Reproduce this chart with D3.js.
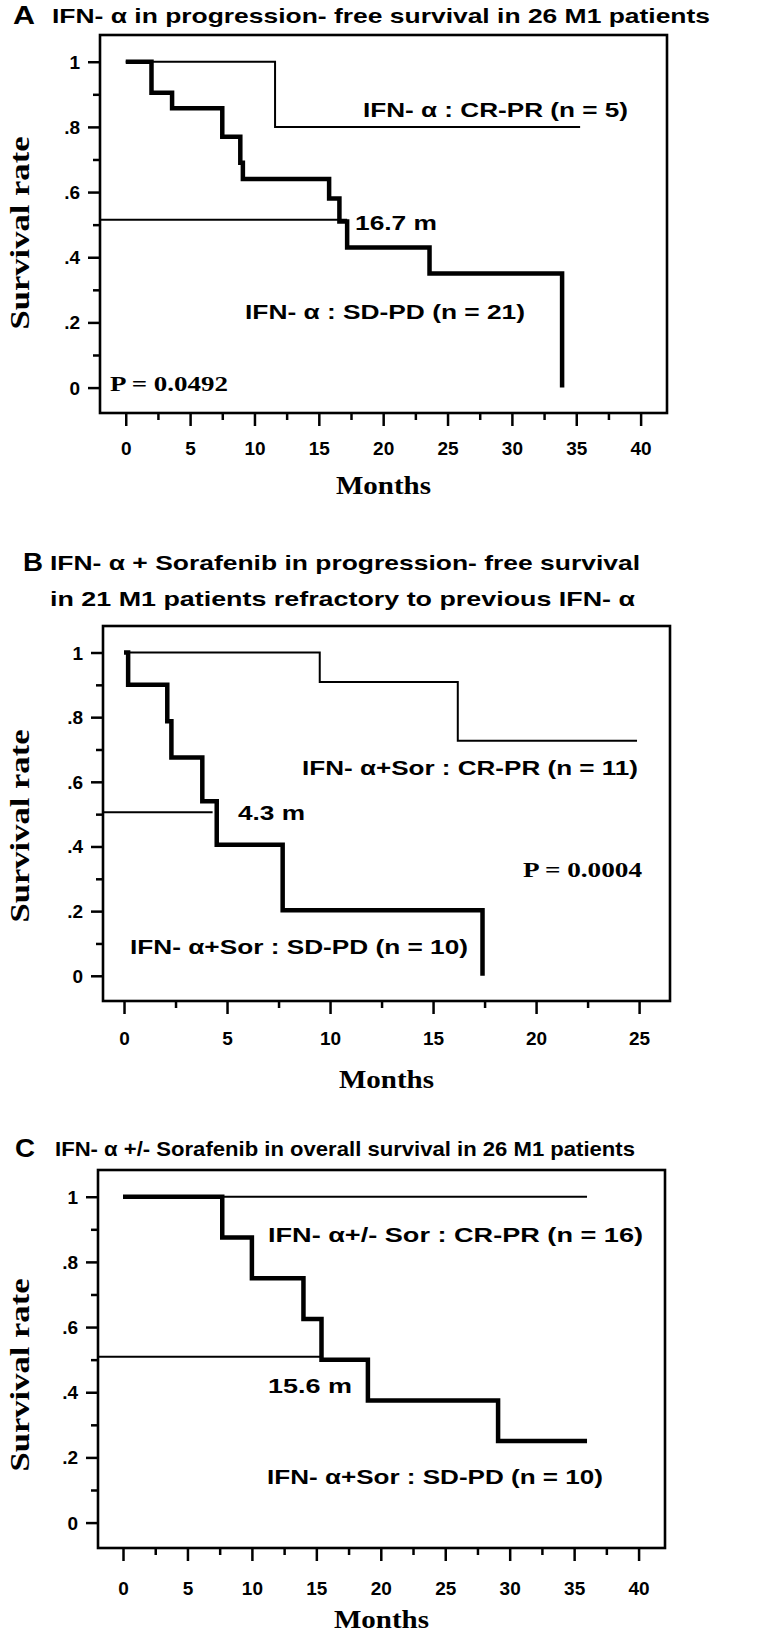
<!DOCTYPE html>
<html><head><meta charset="utf-8">
<script src="https://cdn.jsdelivr.net/npm/d3@7"></script>
<style>body{margin:0;background:#fff} svg{display:block}</style>
</head><body><svg id="c" width="774" height="1636"></svg>
<script>
// ---------- shared axis values ----------
const yMajor = [0, 0.2, 0.4, 0.6, 0.8, 1];
const yLabels = ["0", ".2", ".4", ".6", ".8", "1"];
const yMinor = [0.1, 0.3, 0.5, 0.7, 0.9];

// ---------- Panel A ----------
const aTicks = [0, 5, 10, 15, 20, 25, 30, 35, 40];
const aCrTime = [0, 11.6, 35.3];
const aCrSurv = [1, 0.8, 0.8];
const aSdTime = [0, 2.0, 3.6, 7.5, 8.9, 9.1, 15.8, 16.6, 17.2, 23.6, 33.9];
const aSdSurv = [1, 0.905, 0.857, 0.77, 0.69, 0.64, 0.58, 0.51, 0.43, 0.35, 0];
const aMedianTime = 17.2, aMedianSurv = 0.515;

// ---------- Panel B ----------
const bTicks = [0, 5, 10, 15, 20, 25];
const bCrTime = [0, 9.5, 16.2, 24.9];
const bCrSurv = [1, 0.909, 0.727, 0.727];
const bSdTime = [0, 0.2, 2.1, 2.3, 3.8, 4.5, 7.7, 17.4];
const bSdSurv = [1, 0.9, 0.7875, 0.675, 0.54, 0.405, 0.2025, 0];
const bMedianTime = 4.3, bMedianSurv = 0.506;

// ---------- Panel C ----------
const cTicks = [0, 5, 10, 15, 20, 25, 30, 35, 40];
const cCrTime = [0, 36.0];
const cCrSurv = [1, 1];
const cSdTime = [0, 7.7, 10.0, 14.0, 15.4, 19.0, 29.1, 36.0];
const cSdSurv = [1, 0.875, 0.75, 0.625, 0.5, 0.375, 0.25, 0.25];
const cMedianTime = 15.4, cMedianSurv = 0.509;

const svg = d3.select("#c");
const SANS = "'Liberation Sans', Arial, sans-serif";
const SERIF = "'Liberation Serif', 'Times New Roman', serif";
const yDomain = [-0.078, 1.082];

function txt(t, x, y, o) {
  const e = svg.append("text").text(t).attr("x", x).attr("y", y)
    .attr("dominant-baseline", "central")
    .attr("font-family", o.font || SANS).attr("font-weight", "bold")
    .attr("font-size", o.size).attr("text-anchor", o.anchor || "start")
    .attr("fill", "#000");
  if (o.len) e.attr("textLength", o.len).attr("lengthAdjust", "spacingAndGlyphs");
  if (o.rotate) e.attr("transform", `rotate(-90,${x},${y})`);
  return e;
}

function panel(p) {
  const x = d3.scaleLinear().domain(p.xDomain).range([p.left, p.right]);
  const y = d3.scaleLinear().domain(yDomain).range([p.bottom, p.top]);

  const style = g => {
    g.select(".domain").remove();
    g.selectAll("line").attr("stroke", "#000").attr("stroke-width", 2.5);
  };
  // y axis
  svg.append("g").attr("transform", `translate(${p.left},0)`)
    .call(d3.axisLeft(y).tickValues(yMajor).tickSize(12).tickFormat((d, i) => yLabels[i]))
    .call(style)
    .call(g => g.selectAll("text").attr("x", -20).attr("dy", null)
      .attr("dominant-baseline", "central")
      .attr("font-family", SANS).attr("font-weight", "bold").attr("font-size", 19).attr("fill", "#000"));
  svg.append("g").attr("transform", `translate(${p.left},0)`)
    .call(d3.axisLeft(y).tickValues(yMinor).tickSize(7).tickFormat(""))
    .call(style);
  // x axis
  svg.append("g").attr("transform", `translate(0,${p.bottom})`)
    .call(d3.axisBottom(x).tickValues(p.xTicks).tickSize(13))
    .call(style)
    .call(g => g.selectAll("text").attr("y", p.tickLabOff).attr("dy", null)
      .attr("dominant-baseline", "central")
      .attr("font-family", SANS).attr("font-weight", "bold").attr("font-size", 19).attr("fill", "#000"));
  svg.append("g").attr("transform", `translate(0,${p.bottom})`)
    .call(d3.axisBottom(x).tickValues(p.xMinor).tickSize(7).tickFormat(""))
    .call(style);

  // frame
  svg.append("rect").attr("x", p.left).attr("y", p.top)
    .attr("width", p.right - p.left).attr("height", p.bottom - p.top)
    .attr("fill", "none").attr("stroke", "#000").attr("stroke-width", 2.6);

  const line = d3.line().x(d => x(d[0])).y(d => y(d[1])).curve(d3.curveStepAfter);
  // median reference line
  svg.append("path").datum([[p.xDomain[0], p.median[1]], [p.median[0], p.median[1]]])
    .attr("d", d3.line().x(d => x(d[0])).y(d => y(d[1])))
    .attr("fill", "none").attr("stroke", "#000").attr("stroke-width", 2);
  // CR-PR thin
  svg.append("path").datum(p.crT.map((t, i) => [t, p.crS[i]]))
    .attr("d", line).attr("fill", "none").attr("stroke", "#000").attr("stroke-width", 2);
  // SD-PD thick
  svg.append("path").datum(p.sdT.map((t, i) => [t, p.sdS[i]]))
    .attr("d", line).attr("fill", "none").attr("stroke", "#000").attr("stroke-width", 4.5)
    .attr("stroke-linejoin", "miter");

  // axis titles
  txt("Months", (p.left + p.right) / 2, p.bottom + p.monthsOff, {font: SERIF, size: 26, anchor: "middle", len: 95});
  txt("Survival rate", 20, p.ylabY, {font: SERIF, size: 27, anchor: "middle", len: 193, rotate: true});
}

// ---------- Panel A ----------
txt("A", 13, 15, {size: 25, len: 22});
txt("IFN- α in progression- free survival in 26 M1 patients", 52, 15, {size: 21, len: 658});
panel({left: 100, top: 35, right: 667, bottom: 413, xDomain: [-2.0, 42.05],
  xTicks: aTicks, xMinor: aTicks.slice(0, -1).map(d => d + 2.5), tickLabOff: 35, monthsOff: 72, ylabY: 233,
  crT: aCrTime, crS: aCrSurv, sdT: aSdTime, sdS: aSdSurv, median: [aMedianTime, aMedianSurv]});
txt("IFN- α : CR-PR (n = 5)", 363, 110, {size: 20, len: 265});
txt("16.7 m", 355, 223, {size: 20, len: 82});
txt("IFN- α : SD-PD (n = 21)", 245, 312, {size: 20, len: 280});
txt("P = 0.0492", 110, 384, {font: SERIF, size: 21, len: 118});

// ---------- Panel B ----------
txt("B", 23, 562, {size: 25, len: 20});
txt("IFN- α + Sorafenib in progression- free survival", 50, 562, {size: 21, len: 590});
txt("in 21 M1 patients refractory to previous IFN- α", 50, 598, {size: 21, len: 585});
panel({left: 103, top: 626, right: 670, bottom: 1001, xDomain: [-1.02, 26.5],
  xTicks: bTicks, xMinor: bTicks.slice(0, -1).map(d => d + 2.5), tickLabOff: 37, monthsOff: 78, ylabY: 826,
  crT: bCrTime, crS: bCrSurv, sdT: bSdTime, sdS: bSdSurv, median: [bMedianTime, bMedianSurv]});
txt("IFN- α+Sor : CR-PR (n = 11)", 302, 768, {size: 20, len: 336});
txt("4.3 m", 238, 813, {size: 20, len: 67});
txt("P = 0.0004", 523, 870, {font: SERIF, size: 21, len: 119});
txt("IFN- α+Sor : SD-PD (n = 10)", 130, 947, {size: 20, len: 338});

// ---------- Panel C ----------
txt("C", 15, 1148, {size: 25, len: 20});
txt("IFN- α +/-  Sorafenib in overall survival in 26 M1 patients", 55, 1148, {size: 21, len: 580});
panel({left: 98, top: 1170, right: 665, bottom: 1548, xDomain: [-1.94, 42.05],
  xTicks: cTicks, xMinor: cTicks.slice(0, -1).map(d => d + 2.5), tickLabOff: 40, monthsOff: 71, ylabY: 1375,
  crT: cCrTime, crS: cCrSurv, sdT: cSdTime, sdS: cSdSurv, median: [cMedianTime, cMedianSurv]});
txt("IFN- α+/- Sor : CR-PR (n = 16)", 268, 1235, {size: 20, len: 375});
txt("15.6 m", 268, 1386, {size: 20, len: 84});
txt("IFN- α+Sor : SD-PD (n = 10)", 267, 1477, {size: 20, len: 336});
</script></body></html>
